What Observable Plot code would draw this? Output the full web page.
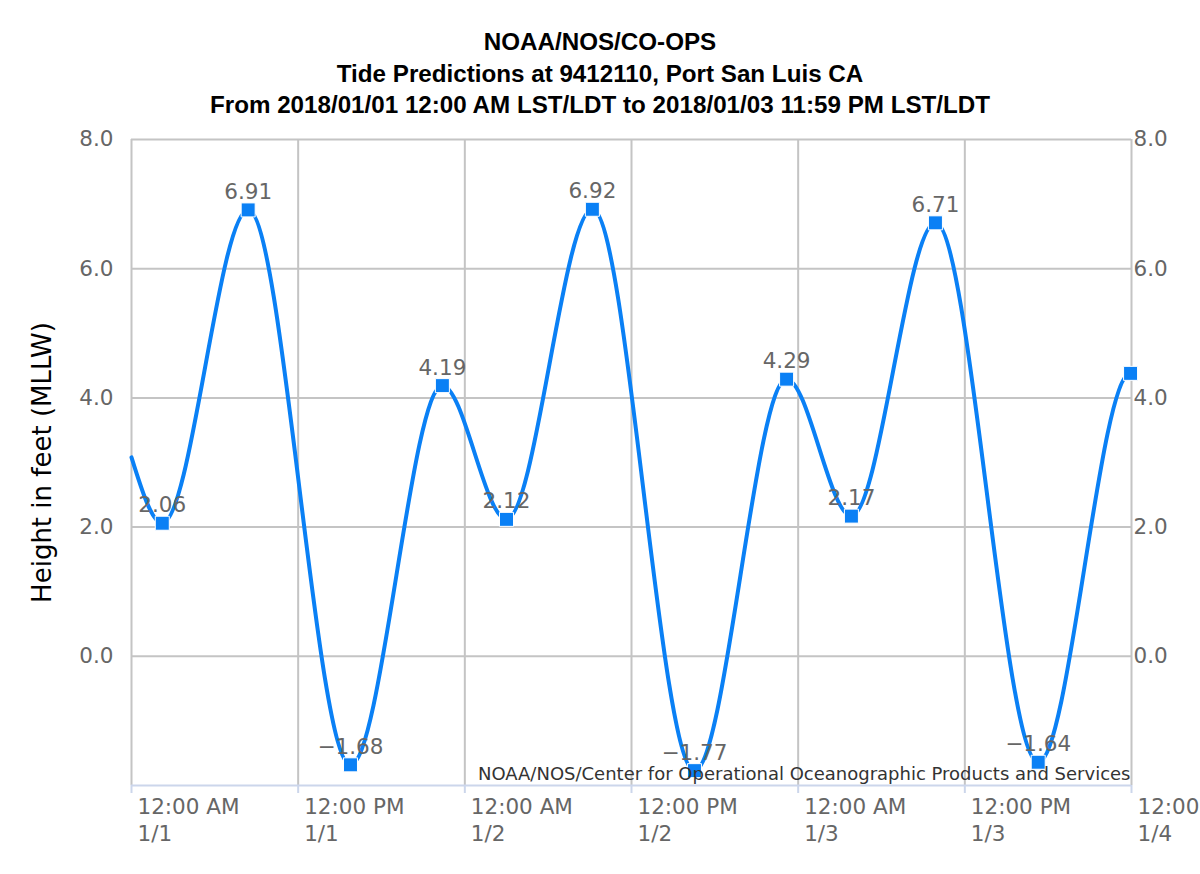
<!DOCTYPE html>
<html>
<head>
<meta charset="utf-8">
<script src="https://cdn.jsdelivr.net/npm/d3@7"></script>
<script src="https://cdn.jsdelivr.net/npm/@observablehq/plot@0.6"></script>
<style>
  html, body { margin: 0; padding: 0; background: #fff; overflow: hidden; }
  #wrap { width: 1200px; }
  #title {
    box-sizing: border-box; height: 120px; padding-top: 26px;
    font-family: "Liberation Sans", Arial, sans-serif; font-weight: bold;
    font-size: 24.2px; line-height: 31.5px; text-align: center; color: #000;
  }
</style>
</head>
<body>
<div id="wrap">
  <div id="title">
    <div>NOAA/NOS/CO-OPS</div>
    <div>Tide Predictions at 9412110, Port San Luis CA</div>
    <div>From 2018/01/01 12:00 AM LST/LDT to 2018/01/03 11:59 PM LST/LDT</div>
  </div>
  <div id="chart"></div>
</div>
<script>
// ---- data ----
const startTime = "2018-01-01 00:00";
const startHeight = 3.08;
const hiloTimes = [
  "2018-01-01 02:13", "2018-01-01 08:24", "2018-01-01 15:46", "2018-01-01 22:23",
  "2018-01-02 03:00", "2018-01-02 09:11", "2018-01-02 16:32", "2018-01-02 23:10",
  "2018-01-03 03:50", "2018-01-03 09:53", "2018-01-03 17:17", "2018-01-03 23:56"
];
const hiloHeights = [2.06, 6.91, -1.68, 4.19, 2.12, 6.92, -1.77, 4.29, 2.17, 6.71, -1.64, 4.38];
const hiloLabelled = [true, true, true, true, true, true, true, true, true, true, true, false];
const xTickTimes = [
  "2018-01-01 00:00", "2018-01-01 12:00", "2018-01-02 00:00", "2018-01-02 12:00",
  "2018-01-03 00:00", "2018-01-03 12:00", "2018-01-04 00:00"
];
const yTicks = [0, 2, 4, 6, 8];
const yLabel = "Height in feet (MLLW)";
const credits = "NOAA/NOS/Center for Operational Oceanographic Products and Services";

// ---- build tables ----
const parse = d3.utcParse("%Y-%m-%d %H:%M");
const hilo = hiloTimes.map((t, i) => ({time: parse(t), height: hiloHeights[i], label: hiloLabelled[i]}));
const curveData = [{time: parse(startTime), height: startHeight}, ...hilo];
const xTicks = xTickTimes.map(parse);
const fmtVal = d3.format(".2f");
const fmtTick = d => {
  const h = d.getUTCHours();
  const hh = (h % 12 === 0 ? 12 : h % 12);
  return `${hh}:00 ${h < 12 ? "AM" : "PM"}\n${d.getUTCMonth() + 1}/${d.getUTCDate()}`;
};

// smooth curve: horizontal tangents at the high/low points (Hermite), one-sided slope at the start
function tideCurve(context) {
  let xs = [], ys = [];
  return {
    areaStart() {}, areaEnd() {},
    lineStart() { xs = []; ys = []; },
    point(x, y) { xs.push(+x); ys.push(+y); },
    lineEnd() {
      const n = xs.length;
      if (!n) return;
      const m = xs.map((_, i) => (i === 0 && n > 1) ? 1.5 * (ys[1] - ys[0]) / (xs[1] - xs[0]) : 0);
      context.moveTo(xs[0], ys[0]);
      for (let i = 1; i < n; i++) {
        const h = (xs[i] - xs[i - 1]) / 3;
        context.bezierCurveTo(xs[i - 1] + h, ys[i - 1] + h * m[i - 1], xs[i] - h, ys[i] - h * m[i], xs[i], ys[i]);
      }
    }
  };
}

const blue = "#0a80f5";
const grid = "#c4c4c4";
const axisCol = "#ccd6eb";
const labelCol = "#666666";
const fs = 21.5;

const chart = Plot.plot({
  width: 1200,
  height: 754,
  marginLeft: 131,
  marginRight: 69,
  marginTop: 19,
  marginBottom: 89,
  style: {fontFamily: "'DejaVu Sans', Verdana, sans-serif", background: "#fff", overflow: "visible"},
  x: {type: "utc", domain: [xTicks[0], xTicks[xTicks.length - 1]], axis: null},
  y: {domain: [-2, 8], axis: null},
  marks: [
    Plot.gridY({ticks: yTicks, stroke: grid, strokeOpacity: 1, strokeWidth: 2}),
    Plot.gridX({ticks: xTicks, stroke: grid, strokeOpacity: 1, strokeWidth: 2}),
    Plot.ruleY([-2], {stroke: axisCol, strokeWidth: 2}),
    Plot.axisX({ticks: xTicks, tickSize: 8, tickFormat: () => "", stroke: axisCol, strokeWidth: 2, strokeOpacity: 1, label: null}),
    Plot.axisX({ticks: xTicks, tickSize: 0, tickPadding: 9, tickFormat: fmtTick, textAnchor: "start", dx: 6,
      fontSize: fs, lineHeight: 1.27, fill: labelCol, label: null}),
    Plot.axisY({ticks: yTicks, anchor: "left", tickSize: 0, tickPadding: 18, tickFormat: d3.format(".1f"),
      fontSize: fs, fill: labelCol, label: null}),
    Plot.axisY({ticks: yTicks, anchor: "right", tickSize: 0, tickPadding: 2, tickFormat: d3.format(".1f"),
      fontSize: fs, fill: labelCol, label: null}),
    Plot.text([yLabel], {frameAnchor: "left", dx: -89, rotate: -90, textAnchor: "middle", fontSize: 26, fill: "#000"}),
    Plot.line(curveData, {x: "time", y: "height", stroke: blue, strokeWidth: 4, curve: tideCurve}),
    Plot.dot(hilo, {x: "time", y: "height", symbol: "square", r: 7.9, fill: blue, stroke: "#fff", strokeWidth: 1}),
    Plot.text(hilo.filter(d => d.label), {x: "time", y: "height", text: d => fmtVal(d.height), dy: -18,
      fontSize: fs, fill: labelCol}),
    Plot.text([credits], {frameAnchor: "bottom-right", dx: -1, dy: -6, textAnchor: "end", fontSize: 18, fill: "#333"})
  ]
});
document.getElementById("chart").appendChild(chart);
</script>
</body>
</html>
